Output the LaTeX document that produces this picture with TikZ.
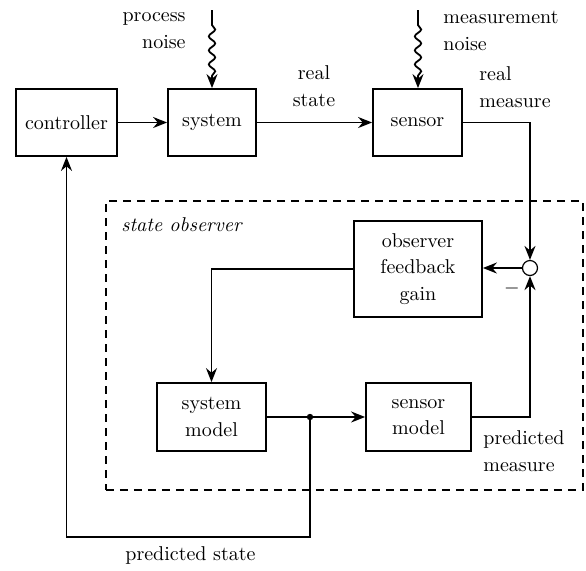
\documentclass[tikz,border=0pt]{standalone}
\usetikzlibrary{arrows.meta,decorations.pathmorphing}
\begin{document}
\begin{tikzpicture}[x=0.5pt,y=-0.5pt,
  blk/.style={draw,line width=0.9pt,align=center,inner sep=0pt,font=\fontsize{10}{13.3}\selectfont},
  lbl/.style={align=center,inner sep=0pt,font=\fontsize{10}{13.5}\selectfont},
  conn/.style={line width=0.9pt,-{Stealth[length=7pt,width=5.5pt,inset=2.3pt]}},
  noisy/.style={conn,decorate,decoration={snake,amplitude=1.6pt,segment length=7pt,pre length=7.5pt,post length=4pt}},
  frame/.style={draw,line width=0.9pt,dash pattern=on 4pt off 3pt,inner sep=0pt},
  ]
\path[use as bounding box] (0,0) rectangle (586,570);
% frame of the observer
\node[frame,minimum width=238.5pt,minimum height=144.5pt] (obsframe) at (344.5,345.5) {};
\node[lbl,anchor=west,font=\fontsize{10}{13.5}\selectfont\itshape] (title) at (121,225) {state observer};
% blocks
\node[blk,minimum width=50.5pt,minimum height=33.5pt] (ctrl) at (66.5,122.5) {controller};
\node[blk,minimum width=44pt,minimum height=33.5pt] (sys) at (212,122.5) {system};
\node[blk,minimum width=44.5pt,minimum height=33.5pt] (sen) at (417.5,122.5) {sensor};
\node[blk,minimum width=64pt,minimum height=48pt] (obs) at (418,269) {observer\\feedback\\gain};
\node[circle,draw,line width=0.6pt,minimum size=7.5pt,inner sep=0pt] (sum) at (530,268) {};
\node[blk,minimum width=54.5pt,minimum height=34pt] (sysm) at (211.5,417) {system\\model};
\node[blk,minimum width=52.5pt,minimum height=34pt] (senm) at (418.5,417) {sensor\\model};
\coordinate (dot) at (310,417);
\coordinate (psc) at (310,537);
\coordinate (pn) at (212,10);
\coordinate (mn) at (418,10);
% labels
\node[lbl,align=right,anchor=east] (pnl) at (186,30.5) {process\\noise};
\node[lbl,align=left,anchor=west] (mnl) at (443,31) {measurement\\noise};
\node[lbl] (rs) at (314,86.5) {real\\state};
\node[lbl,align=left,anchor=west] (rm) at (479,87) {real\\measure};
\node[lbl,align=left,anchor=west] (pm) at (483,451) {predicted\\measure};
\node[lbl,anchor=west] (ps) at (125,555) {predicted state};
\node[lbl] (minus) at (512,288) {$-$};
% connectors
\draw[noisy] (pn) -- (sys.north);
\draw[noisy] (mn) -- (mn |- sen.north);
\draw[conn] (ctrl) -- (sys);
\draw[conn] (sys) -- (sen);
\draw[conn] (sen.east) -| (sum.north);
\draw[conn] (sum.west) -- (sum.west -| obs.east);
\draw[conn] (obs.west) -| (sysm.north);
\draw[conn] (sysm) -- (senm);
\draw[conn] (senm.east) -| (sum.south);
\draw[conn] (dot) -- (psc) -| (ctrl.south);
\fill (dot) circle (1.6pt);
\end{tikzpicture}
\end{document}
